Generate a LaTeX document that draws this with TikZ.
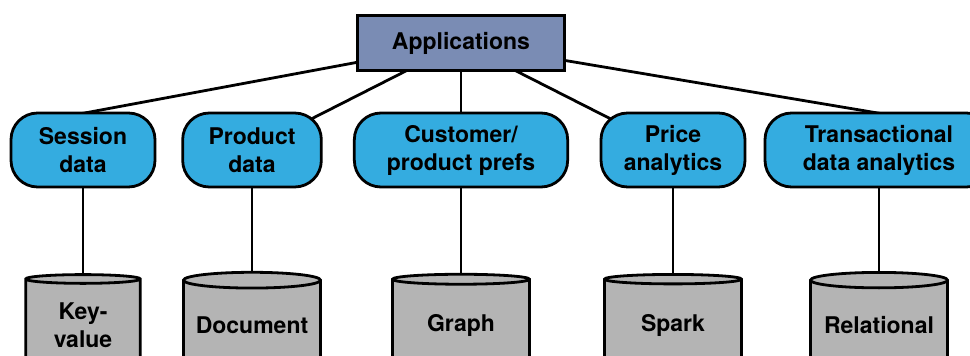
\documentclass[tikz,border=0pt]{standalone}
\usepackage{fontspec}
\setsansfont{TeX Gyre Heros}
\usetikzlibrary{shapes.geometric,calc,backgrounds}
\definecolor{appblue}{RGB}{122,140,180}
\definecolor{pillblue}{RGB}{52,172,224}
\definecolor{dbgray}{RGB}{180,180,180}
\begin{document}
\begin{tikzpicture}[x=0.75pt, y=0.75pt,
    every node/.style={font=\sffamily\bfseries\fontsize{17.25}{21}\selectfont, align=center, draw, line width=2.1pt},
    appbox/.style={rectangle, fill=appblue, minimum width=155pt, minimum height=41pt},
    pill/.style={rectangle, rounded corners=20pt, fill=pillblue, minimum height=55.5pt, inner sep=2pt},
    store/.style={cylinder, shape border rotate=90, aspect=0.13, fill=dbgray, minimum width=102.75pt, minimum height=70pt},
    link/.style={line width=2.1pt}]
  \useasboundingbox (0,0) rectangle (970,-356);
  \node[appbox] (app) at (461,-43) {Applications};
  % data kinds
  \node[pill, minimum width=108pt] (ses) at (83,-150) {Session\\data};
  \node[pill, minimum width=104pt] (prod) at (252,-150) {Product\\data};
  \node[pill, minimum width=160pt] (cust) at (461,-150) {Customer/\\product prefs};
  \node[pill, minimum width=108pt] (price) at (673,-150) {Price\\analytics};
  \node[pill, minimum width=171pt] (trans) at (879,-150) {Transactional\\data analytics};
  % stores
  \node[store, minimum width=86pt] (kv) at (83,-325) {Key-\\value};
  \node[store] (doc) at (252,-325) {Document};
  \node[store] (graph) at (461,-325) {Graph};
  \node[store] (spark) at (673,-325) {Spark};
  \node[store] (rel) at (879,-325) {Relational};
  \begin{scope}[on background layer]
    \foreach \n/\dx/\dy in {ses/-23/-6, prod/58/-8, cust/0/-6, price/-59/-9, trans/26/-6}
      \draw[link] (app.center) -- ($(\n.north)+(\dx,\dy)$);
    \foreach \a/\b in {ses/kv, prod/doc, cust/graph, price/spark, trans/rel}
      \draw[link] (\a.center) -- (\b.center);
  \end{scope}
\end{tikzpicture}
\end{document}
